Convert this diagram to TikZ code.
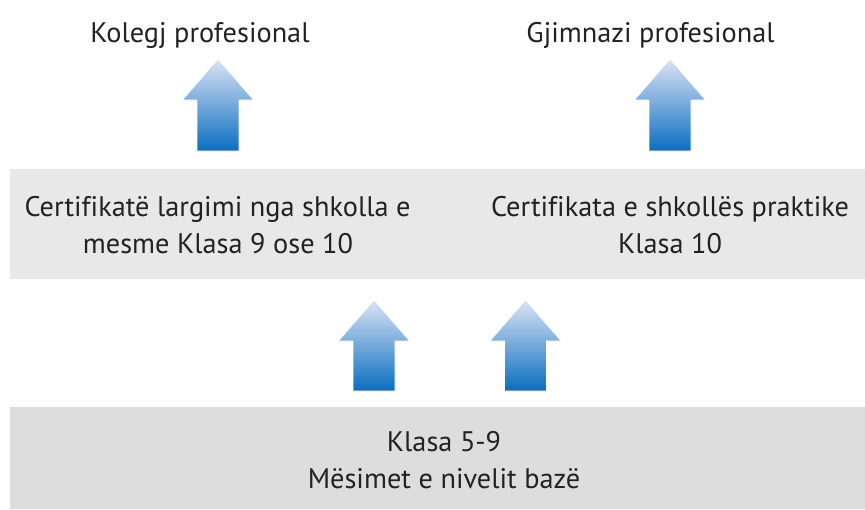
\documentclass[tikz,border=0pt]{standalone}
\usepackage{fontspec}
\setmainfont[Ligatures=NoCommon]{PT Sans}
\definecolor{txt}{HTML}{222222}
\definecolor{boxmid}{HTML}{E8E8E8}
\definecolor{boxbot}{HTML}{DDDDDD}
\definecolor{arrtop}{HTML}{DCE3F4}
\definecolor{arrmid}{HTML}{8FA9DA}
\definecolor{arrbot}{HTML}{0A6EC0}
\newcommand{\blockarrowup}[4]{% #1 centre x, #2 tip y, #3 head base y, #4 bottom y
  \shade[top color=arrtop, middle color=arrmid, bottom color=arrbot, draw=white, line width=0.6pt]
    (#1-21,#4) -- (#1-21,#3) -- (#1-35.5,#3) -- (#1,#2) -- (#1+35.5,#3) -- (#1+21,#3) -- (#1+21,#4) -- cycle;}
\begin{document}
\begin{tikzpicture}[x=1pt,y=-1pt,
  lbl/.style={anchor=base, inner sep=0pt, text=txt, font=\fontsize{28.3}{34}\selectfont}]
\useasboundingbox (0,0) rectangle (865,509);
% boxes
\fill[boxmid] (10,169) rectangle (865,279);
\fill[boxbot] (10,407) rectangle (865,509);
% titles
\node[lbl] (kol) at (200,42.7) {Kolegj profesional};
\node[lbl] (gjim) at (650.5,42.7) {Gjimnazi profesional};
% middle texts
\node[lbl] (cl1) at (217.5,216.7) {Certifikatë largimi nga shkolla e};
\node[lbl] (cl2) at (218,253) {mesme Klasa 9 ose 10};
\node[lbl] (cr1) at (670,216.7) {Certifikata e shkollës praktike};
\node[lbl] (cr2) at (670,253) {Klasa 10};
% bottom texts
\node[lbl] (b1) at (444,451.7) {Klasa 5-9};
\node[lbl] (b2) at (444,488) {Mësimet e nivelit bazë};
% arrows
\blockarrowup{218}{59}{100}{151}
\blockarrowup{670}{59}{100}{151}
\blockarrowup{374}{300}{341}{391}
\blockarrowup{525.5}{300}{341}{391}
\end{tikzpicture}
\end{document}
